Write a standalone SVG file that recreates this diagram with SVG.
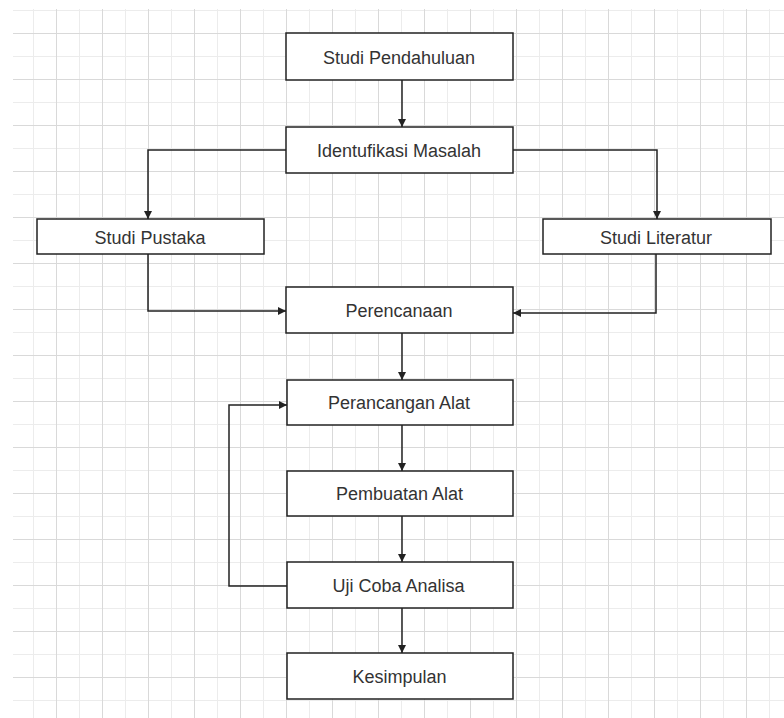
<svg xmlns="http://www.w3.org/2000/svg" width="784" height="718" viewBox="0 0 784 718">
<style>
.box{fill:#fff;stroke:#222;stroke-width:1.5}
.lbl{font-family:"Liberation Sans",Arial,sans-serif;font-size:18px;fill:#333;text-anchor:middle}
.con{fill:none;stroke:#222;stroke-width:1.5}
</style>
<defs>
<pattern id="grid" x="10" y="10" width="46" height="46" patternUnits="userSpaceOnUse">
<line x1="23.5" y1="0" x2="23.5" y2="46" stroke="#ececec" stroke-width="1"/>
<line x1="0" y1="0.5" x2="46" y2="0.5" stroke="#ececec" stroke-width="1"/>
<line x1="0.5" y1="0" x2="0.5" y2="46" stroke="#d9d9d9" stroke-width="1"/>
<line x1="0" y1="23.5" x2="46" y2="23.5" stroke="#d9d9d9" stroke-width="1"/>
</pattern>
<marker id="arr" viewBox="0 0 8 8" refX="8" refY="4" markerWidth="8" markerHeight="8" markerUnits="userSpaceOnUse" orient="auto">
<path d="M0,0 L8,4 L0,8 Z" fill="#222"/>
</marker>
</defs>
<rect width="784" height="718" fill="#fff"/>
<rect x="13" y="9" width="771" height="709" fill="url(#grid)"/>

<g id="connectors">
<path class="con" d="M402,80 V127" marker-end="url(#arr)"/>
<path class="con" d="M286,150 H148 V219" marker-end="url(#arr)"/>
<path class="con" d="M513,150 H657 V219" marker-end="url(#arr)"/>
<path class="con" d="M148,254 V311 H286" marker-end="url(#arr)"/>
<path class="con" d="M656,254 V313 H513" marker-end="url(#arr)"/>
<path class="con" d="M402,333 V380" marker-end="url(#arr)"/>
<path class="con" d="M402,425 V471" marker-end="url(#arr)"/>
<path class="con" d="M402,516 V562" marker-end="url(#arr)"/>
<path class="con" d="M402,608 V653" marker-end="url(#arr)"/>
<path class="con" d="M287,586 H229 V405 H287" marker-end="url(#arr)"/>
</g>

<g id="studi-pendahuluan"><rect class="box" x="286" y="33" width="227" height="47"/><text class="lbl" x="399" y="63.5">Studi Pendahuluan</text></g>
<g id="identifikasi-masalah"><rect class="box" x="286" y="127" width="227" height="46"/><text class="lbl" x="399" y="157">Identufikasi Masalah</text></g>
<g id="studi-pustaka"><rect class="box" x="37" y="219" width="227" height="35"/><text class="lbl" x="150" y="244">Studi Pustaka</text></g>
<g id="studi-literatur"><rect class="box" x="543" y="219" width="228" height="35"/><text class="lbl" x="656" y="244">Studi Literatur</text></g>
<g id="perencanaan"><rect class="box" x="286" y="287" width="227" height="46"/><text class="lbl" x="399" y="317">Perencanaan</text></g>
<g id="perancangan-alat"><rect class="box" x="287" y="380" width="226" height="45"/><text class="lbl" x="399" y="409">Perancangan Alat</text></g>
<g id="pembuatan-alat"><rect class="box" x="287" y="471" width="226" height="45"/><text class="lbl" x="399.5" y="500">Pembuatan Alat</text></g>
<g id="uji-coba-analisa"><rect class="box" x="287" y="562" width="226" height="46"/><text class="lbl" x="398.5" y="592">Uji Coba Analisa</text></g>
<g id="kesimpulan"><rect class="box" x="287" y="653" width="226" height="46"/><text class="lbl" x="399.5" y="683">Kesimpulan</text></g>
</svg>
